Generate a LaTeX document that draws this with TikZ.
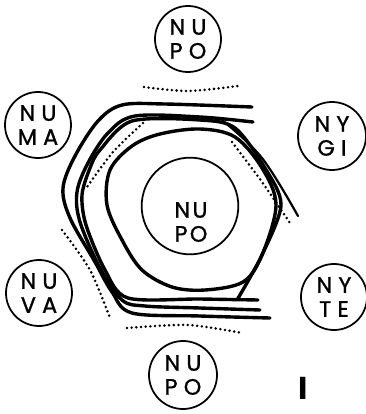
\documentclass[tikz,border=0pt]{standalone}
\usepackage{fontspec}
\setmainfont{Poppins}
\newfontfamily\sitefont[LetterSpace=28, FakeBold=1.2]{Poppins}
\usetikzlibrary{arrows.meta, positioning}
\tikzset{
  every picture/.style={line width=1.2pt},
  site/.style={circle, draw, line width=1.5pt, minimum size=#1, inner sep=0pt, align=center, font=\sitefont\fontsize{19}{20.5}\selectfont},
  site/.default=1.98cm,
  wall/.style={line width=2.9pt, line cap=round, line join=round},
  thinwall/.style={line width=1.9pt, line cap=round, line join=round},
  dotrow/.style={line width=2.4pt, dash pattern=on 0pt off 4pt, line cap=round},
}
\begin{document}
\begin{tikzpicture}[x=0.03cm, y=-0.03cm]
  \useasboundingbox (0,0) rectangle (366,414);
  \node[site] (nupotop) at (188,39) {NU\\PO};
  \node[site] (numa) at (38,125) {NU\\MA};
  \node[site=2.04cm] (nygi) at (332,136) {NY\\GI};
  \node[site] (nuva) at (39,293) {NU\\VA};
  \node[site] (nyte) at (334,297) {NY\\TE};
  \node[site=2.04cm] (nupobot) at (183,375) {NU\\PO};
  \node[site=2.9cm] (nupomid) at (190,206) {};
  \node[font=\sitefont\fontsize{19}{20.5}\selectfont, align=center] (midtext) at (191,222) {N\kern2pt U\\P\kern2pt O};
  \node[font=\fontsize{27}{27}\selectfont\bfseries] (fig) at (303,388) {I};
  % walls round the central ring
  \draw[wall] plot[smooth, tension=0.55] coordinates {(252,107) (165,104) (122,105) (98,121) (75,156) (63,188) (70,218) (95,262) (112,292) (132,313) (200,316) (270,318)};
  \draw[wall] plot[smooth, tension=0.55] coordinates {(253,122) (200,117) (135,116) (108,133) (88,163) (77,192) (80,222) (100,268) (122,300) (145,306) (200,308) (260,310)};
  \draw[wall] plot[smooth, tension=0.5] coordinates {(258,300) (200,299) (128,298) (105,270) (86,225) (82,195) (90,168) (100,150) (132,121) (200,120) (235,128) (265,168) (281,205) (262,255) (237,300)};
  \draw[thinwall] plot[smooth, tension=0.6] coordinates {(222,120) (262,158) (298,216)};
  \draw[wall] plot[smooth cycle, tension=0.55] coordinates {(107,205) (110,170) (132,146) (160,134) (200,129) (235,137) (262,168) (276,205) (262,255) (243,282) (205,290) (172,287) (142,270) (122,240)};
  % dotted rows
  \draw[dotrow] plot[smooth] coordinates {(144,87) (188,91) (238,86)};
  \draw[dotrow] plot[smooth] coordinates {(143,123) (113,152) (87,187)};
  \draw[dotrow] plot[smooth] coordinates {(232,142) (262,182) (290,223)};
  \draw[dotrow] plot[smooth] coordinates {(62,230) (90,270) (110,318)};
  \draw[dotrow] plot[smooth] coordinates {(127,328) (188,325) (242,333)};
\end{tikzpicture}
\end{document}
